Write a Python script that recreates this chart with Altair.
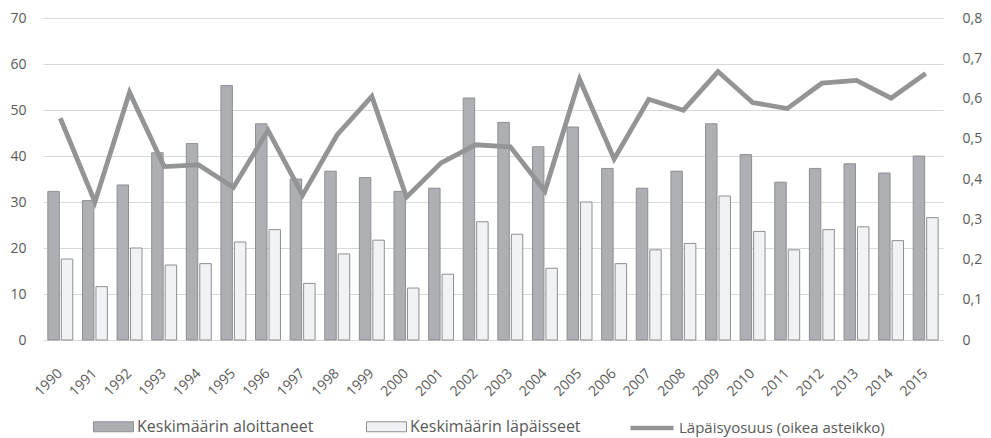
import altair as alt
import pandas as pd

years = [str(y) for y in range(1990, 2016)]
aloittaneet = [32.3, 30.3, 33.7, 40.7, 42.7, 55.3, 47.0, 35.0, 36.7, 35.3, 32.3, 33.0, 52.6,
               47.3, 42.0, 46.3, 37.3, 33.0, 36.7, 47.0, 40.3, 34.3, 37.3, 38.3, 36.3, 40.0]
lapaisseet = [17.6, 11.6, 20.0, 16.3, 16.6, 21.3, 24.0, 12.3, 18.7, 21.7, 11.3, 14.3, 25.7,
              23.0, 15.6, 30.0, 16.6, 19.6, 21.0, 31.3, 23.6, 19.6, 24.0, 24.6, 21.6, 26.6]
osuus = [0.551, 0.343, 0.615, 0.431, 0.435, 0.379, 0.521, 0.360, 0.510, 0.605, 0.355, 0.440, 0.485,
         0.480, 0.370, 0.648, 0.450, 0.598, 0.571, 0.667, 0.590, 0.575, 0.638, 0.645, 0.601, 0.662]

S1 = "Keskimäärin aloittaneet"
S2 = "Keskimäärin läpäisseet"
S3 = "Läpäisyosuus (oikea asteikko)"

bars_df = pd.DataFrame(
    [{"year": y, "series": S1, "value": v} for y, v in zip(years, aloittaneet)]
    + [{"year": y, "series": S2, "value": v} for y, v in zip(years, lapaisseet)]
)
line_df = pd.DataFrame({"year": years, "rate": osuus, "name": S3})

FONT = "Open Sans"
TXT = "#595959"

x_enc = alt.X("year:O", title=None,
              scale=alt.Scale(paddingInner=0.28, paddingOuter=0.14),
              axis=alt.Axis(labelAngle=-45, labelFontSize=14, labelColor=TXT, labelFont=FONT,
                            ticks=False, domainColor="#d9d9d9", labelPadding=26, labelOffset=-5))

bars = alt.Chart(bars_df).mark_bar(stroke="#8e8f93", strokeWidth=1).encode(
    x=x_enc,
    xOffset=alt.XOffset("series:N", sort=[S1, S2], scale=alt.Scale(paddingInner=0.15)),
    y=alt.Y("value:Q", title=None,
            scale=alt.Scale(domain=[0, 70], nice=False),
            axis=alt.Axis(values=list(range(0, 80, 10)), orient="left", grid=True,
                          gridColor="#d9d9d9", domain=False, ticks=False,
                          labelFontSize=14, labelColor=TXT, labelFont=FONT, labelPadding=17)),
    fill=alt.Fill("series:N", sort=[S1, S2],
                  scale=alt.Scale(domain=[S1, S2], range=["#aeafb3", "#f1f2f4"]),
                  legend=alt.Legend(title=None, orient="none", direction="horizontal",
                                    legendX=50, legendY=388,
                                    symbolType="M-1,-0.25H1V0.25H-1Z", symbolSize=1600,
                                    symbolStrokeColor="#8e8f93", symbolStrokeWidth=1,
                                    labelFontSize=16, labelColor=TXT, labelFont=FONT,
                                    labelOffset=3, columnPadding=50, labelLimit=300)),
)

line = alt.Chart(line_df).mark_line(strokeWidth=4.8).encode(
    x=alt.X("year:O"),
    y=alt.Y("rate:Q", title=None,
            scale=alt.Scale(domain=[0, 0.8], nice=False),
            axis=alt.Axis(values=[0, 0.1, 0.2, 0.3, 0.4, 0.5, 0.6, 0.7, 0.8], orient="right",
                          grid=False, domain=False, ticks=False,
                          labelExpr="datum.value == 0 ? '0' : replace(format(datum.value, '.1f'), '.', ',')",
                          labelFontSize=14, labelColor=TXT, labelFont=FONT, labelPadding=19)),
    stroke=alt.Stroke("name:N",
                      scale=alt.Scale(domain=[S3], range=["#939496"]),
                      legend=alt.Legend(title=None, orient="none", direction="horizontal",
                                        legendX=585, legendY=386,
                                        symbolType="stroke", symbolSize=1849,
                                        symbolStrokeWidth=4.5,
                                        labelFontSize=15, labelColor=TXT, labelFont=FONT,
                                        labelOffset=3, labelLimit=300)),
)

chart = alt.layer(bars, line).resolve_scale(y="independent").properties(
    width=900, height=322,
    autosize=alt.AutoSizeParams(type="none"),
    padding={"left": 35, "top": 10, "right": 40, "bottom": 100},
).configure_view(stroke=None)

chart.save("out.html", embed_options={"renderer": "svg", "actions": False})
